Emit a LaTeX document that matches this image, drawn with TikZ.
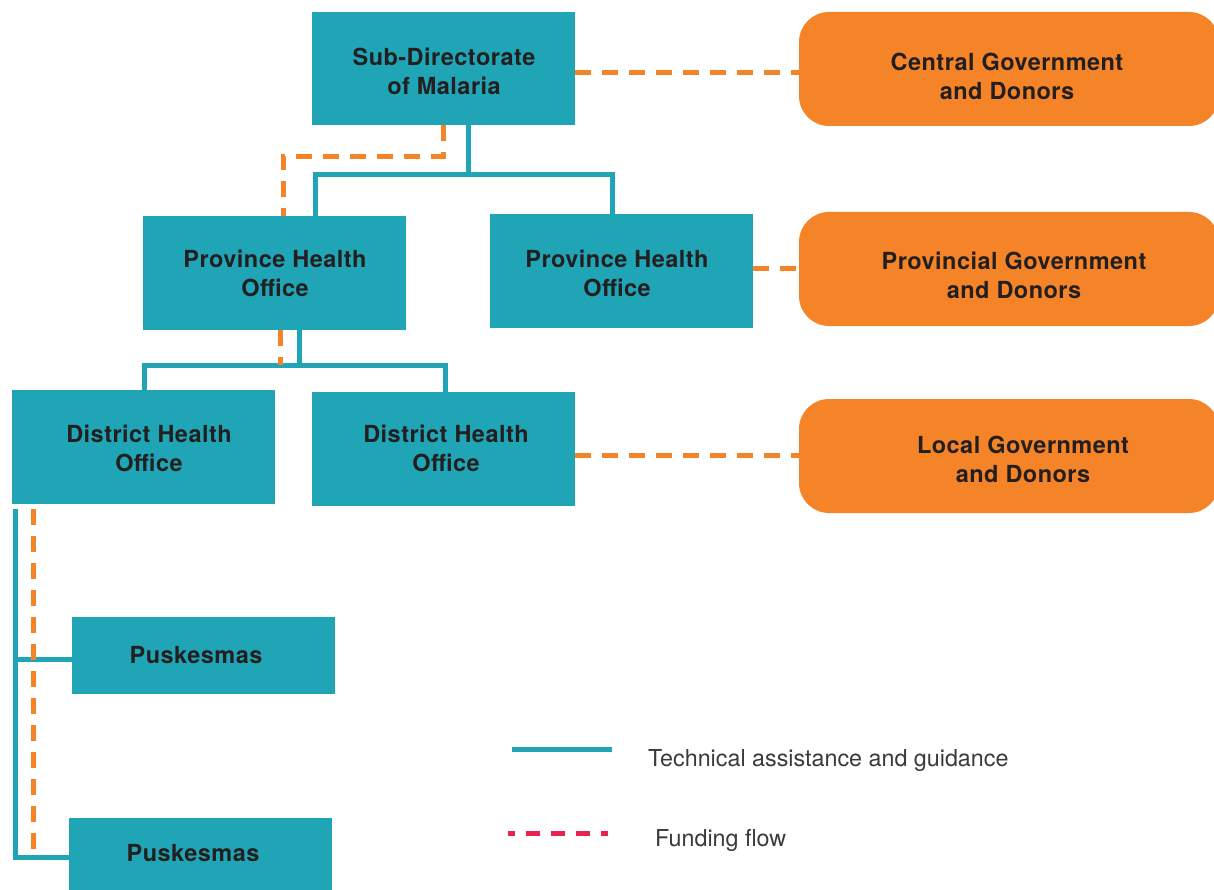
\documentclass[tikz,border=0pt]{standalone}
\usepackage{fontspec}
\setmainfont{TeX Gyre Heros}
\newfontfamily\boxfont[LetterSpace=2]{TeX Gyre Heros}
\definecolor{teal}{HTML}{1FA5B6}
\definecolor{orng}{HTML}{F58428}
\definecolor{ink}{HTML}{231F20}
\definecolor{crim}{HTML}{E8234F}
\definecolor{note}{HTML}{3A3A3A}
\begin{document}
\begin{tikzpicture}[x=1pt,y=-1pt,
  tbox/.style={fill=teal,draw=none,inner sep=0pt},
  obox/.style={fill=orng,draw=none,inner sep=0pt,rounded corners=30pt},
  btxt/.style={font=\boxfont\fontsize{23.5}{29}\selectfont\bfseries,text=ink,align=center,inner sep=0pt},
  ltxt/.style={font=\fontsize{23.3}{27}\selectfont,text=note,anchor=west,inner sep=0pt},
  tech/.style={draw=teal,line width=5pt},
  fund/.style={draw=orng,line width=5pt,dash pattern=on 16pt off 11pt},
  fundkey/.style={draw=crim,line width=5pt,dash pattern=on 14pt off 11pt,dash phase=7pt}]
\useasboundingbox (0,0) rectangle (1214,890);

% organisation boxes
\node[tbox,minimum width=263pt,minimum height=113pt] (sub)   at (443.5,68.5) {};
\node[tbox,minimum width=263pt,minimum height=114pt] (provL) at (274.5,273) {};
\node[tbox,minimum width=263pt,minimum height=114pt] (provR) at (621.5,271) {};
\node[tbox,minimum width=263pt,minimum height=114pt] (distL) at (143.5,447) {};
\node[tbox,minimum width=263pt,minimum height=114pt] (distR) at (443.5,449) {};
\node[tbox,minimum width=263pt,minimum height=77pt]  (pusk1) at (203.5,655.5) {};
\node[tbox,minimum width=263pt,minimum height=72pt]  (pusk2) at (200.5,853.5) {};

% funding sources
\node[obox,minimum width=420pt,minimum height=114pt] (central) at (1009,69) {};
\node[obox,minimum width=420pt,minimum height=114pt] (provinc) at (1009,269) {};
\node[obox,minimum width=420pt,minimum height=114pt] (local)   at (1009,456) {};

% box labels
\node[btxt] (sub-t)   at (444,71)  {Sub-Directorate\\of Malaria};
\node[btxt] (provL-t) at (275,273) {Province Health\\Office};
\node[btxt] (provR-t) at (617,273) {Province Health\\Office};
\node[btxt] (distL-t) at (149,448) {District Health\\Office};
\node[btxt] (distR-t) at (446,448) {District Health\\Office};
\node[btxt] (pusk1-t) at (196,655) {Puskesmas};
\node[btxt] (pusk2-t) at (193,853) {Puskesmas};
\node[btxt] (central-t) at (1007,76) {Central Government\\and Donors};
\node[btxt] (provinc-t) at (1014,275) {Provincial Government\\and Donors};
\node[btxt] (local-t)   at (1023,459) {Local Government\\and Donors};

% technical assistance lines
\coordinate (j1) at (468,175);
\draw[tech] ([xshift=24.5pt]sub.south) -- (j1);
\draw[tech] ([xshift=40.5pt]provL.north) |- (j1) -| ([xshift=-9.5pt]provR.north);
\coordinate (j2) at (299,365);
\draw[tech] ([xshift=24.5pt]provL.south) -- (j2);
\draw[tech] ([xshift=0.5pt]distL.north) |- (j2) -| ([xshift=1.5pt]distR.north);
\coordinate (t0) at ([xshift=4pt,yshift=-5pt]distL.south west);
\coordinate (p1) at ([yshift=-3.5pt]pusk1.west);
\coordinate (p2) at ([yshift=-3.5pt]pusk2.west);
\draw[tech] (t0) |- (p2);
\draw[tech] (t0 |- p1) -- (p1);

% funding lines
\draw[fund] ([xshift=-0.5pt]sub.south) -- ++(0,31) -| ([xshift=8.5pt]provL.north);
\draw[fund] ([xshift=5.5pt]provL.south) -- ++(0,35);
\draw[fund] ([xshift=22pt,yshift=-5pt]distL.south west) -- ++(0,348);
\coordinate (f1) at ([yshift=-4.5pt]sub.east);
\coordinate (f2) at ([yshift=2pt]provR.east);
\coordinate (f3) at ([yshift=-6pt]distR.east);
\draw[fund] (f1) -- (f1 -| central.west);
\draw[fund] (f2) -- (f2 -| provinc.west);
\draw[fund] (f3) -- (f3 -| local.west);

% key
\coordinate (k1a) at (512,749);
\coordinate (k1b) at (612,749);
\coordinate (k2a) at (508,833);
\coordinate (k2b) at (608,833);
\draw[tech] (k1a) -- (k1b);
\draw[fundkey] (k2a) -- (k2b);
\node[ltxt] (k1-t) at (648,761) {Technical assistance and guidance};
\node[ltxt] (k2-t) at (655,841) {Funding flow};
\end{tikzpicture}
\end{document}
